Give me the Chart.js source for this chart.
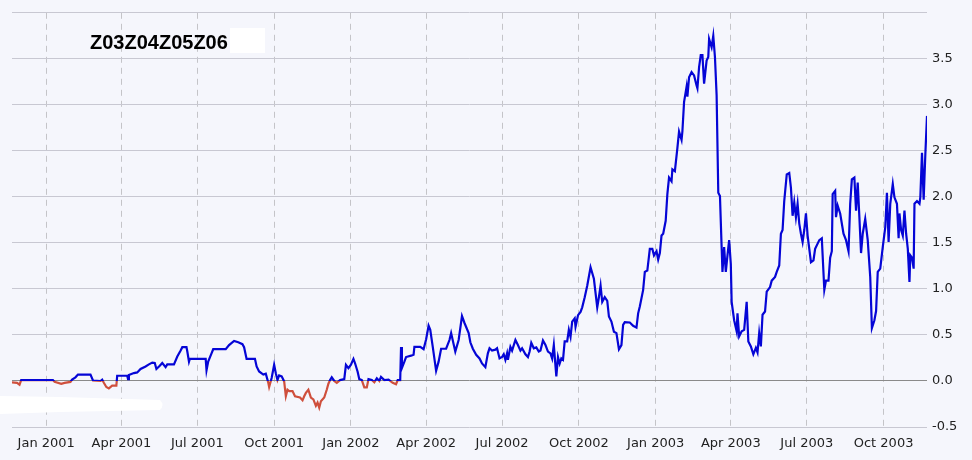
<!DOCTYPE html>
<html>
<head>
<meta charset="utf-8">
<script src="https://cdn.jsdelivr.net/npm/chart.js@4.4.1/dist/chart.umd.min.js"></script>
<style>
  html, body { margin: 0; padding: 0; background: #f5f6fc; }
  #wrap { position: relative; width: 972px; height: 460px; }
  #title { position: absolute; left: 90px; top: 30px; font: bold 20px "Liberation Sans", Arial, sans-serif; color: #000; line-height: 24px; white-space: nowrap; }
</style>
</head>
<body>
<div id="wrap">
  <canvas id="c" width="972" height="460"></canvas>
  <div id="title">Z03Z04Z05Z06</div>
</div>
<script>
const seriesName = "Z03Z04Z05Z06";

const dates = [
"2000-11-21","2000-11-27","2000-11-30","2000-12-02",
"2001-01-09","2001-01-11","2001-01-19","2001-01-23","2001-01-30","2001-02-01","2001-02-05","2001-02-08","2001-02-23","2001-02-26",
"2001-03-07","2001-03-09","2001-03-11","2001-03-14","2001-03-17","2001-03-21","2001-03-26","2001-03-27",
"2001-04-08","2001-04-09","2001-04-10","2001-04-16","2001-04-20","2001-04-24","2001-04-30",
"2001-05-04","2001-05-08","2001-05-11","2001-05-13","2001-05-17","2001-05-20","2001-05-24","2001-05-26",
"2001-06-03","2001-06-07","2001-06-11","2001-06-13","2001-06-18","2001-06-19","2001-06-21","2001-06-22",
"2001-07-11","2001-07-12","2001-07-14","2001-07-18","2001-07-20",
"2001-08-04","2001-08-08","2001-08-14","2001-08-19","2001-08-24","2001-08-26","2001-08-29",
"2001-09-08","2001-09-10","2001-09-13","2001-09-18","2001-09-21","2001-09-24","2001-09-25","2001-09-28",
"2001-10-01","2001-10-03","2001-10-05","2001-10-07","2001-10-10","2001-10-13","2001-10-15","2001-10-17","2001-10-19","2001-10-23","2001-10-26",
"2001-11-01","2001-11-04","2001-11-06","2001-11-08","2001-11-11","2001-11-14","2001-11-17","2001-11-20","2001-11-22","2001-11-24","2001-11-26","2001-11-30",
"2001-12-03","2001-12-05","2001-12-07","2001-12-09","2001-12-12","2001-12-15","2001-12-19","2001-12-24","2001-12-26","2001-12-29",
"2002-01-01","2002-01-04","2002-01-06","2002-01-09","2002-01-11","2002-01-14","2002-01-17","2002-01-20","2002-01-22","2002-01-26","2002-01-29",
"2002-02-01","2002-02-04","2002-02-06","2002-02-10","2002-02-15","2002-02-20","2002-02-24","2002-02-26",
"2002-03-01","2002-03-02","2002-03-03","2002-03-06","2002-03-08","2002-03-14","2002-03-17","2002-03-18","2002-03-25","2002-03-29",
"2002-04-01","2002-04-04","2002-04-06","2002-04-09","2002-04-13","2002-04-16","2002-04-19","2002-04-25","2002-04-29",
"2002-05-01","2002-05-04","2002-05-06","2002-05-10","2002-05-14","2002-05-17","2002-05-22","2002-05-24","2002-05-27","2002-05-31",
"2002-06-04","2002-06-07","2002-06-11","2002-06-14","2002-06-16","2002-06-19","2002-06-23","2002-06-25","2002-06-28",
"2002-07-01","2002-07-03","2002-07-05","2002-07-07","2002-07-08","2002-07-11","2002-07-13","2002-07-17","2002-07-20","2002-07-23","2002-07-25","2002-07-29",
"2002-08-01","2002-08-03","2002-08-05","2002-08-08","2002-08-11","2002-08-14","2002-08-16","2002-08-19","2002-08-22","2002-08-25","2002-08-28","2002-08-30",
"2002-09-01","2002-09-04","2002-09-06","2002-09-08","2002-09-10","2002-09-12","2002-09-14","2002-09-17","2002-09-19","2002-09-21","2002-09-23","2002-09-26","2002-09-27","2002-09-30",
"2002-10-03","2002-10-05","2002-10-08","2002-10-11","2002-10-15","2002-10-19","2002-10-23","2002-10-25","2002-10-27","2002-10-29",
"2002-11-01","2002-11-04","2002-11-06","2002-11-09","2002-11-12","2002-11-15","2002-11-18","2002-11-21","2002-11-23","2002-11-25",
"2002-12-01","2002-12-05","2002-12-09","2002-12-11","2002-12-13","2002-12-17","2002-12-19","2002-12-22","2002-12-25","2002-12-28","2002-12-30",
"2003-01-02","2003-01-04","2003-01-06","2003-01-08","2003-01-10","2003-01-13","2003-01-15","2003-01-17","2003-01-20","2003-01-21","2003-01-24","2003-01-27","2003-01-29",
"2003-02-01","2003-02-02","2003-02-04","2003-02-07","2003-02-08","2003-02-10","2003-02-13","2003-02-16","2003-02-19","2003-02-20","2003-02-22","2003-02-24","2003-02-26","2003-02-28",
"2003-03-03","2003-03-05","2003-03-06","2003-03-09","2003-03-11","2003-03-13","2003-03-15","2003-03-17","2003-03-19","2003-03-21","2003-03-22","2003-03-24","2003-03-26","2003-03-28","2003-03-30",
"2003-04-01","2003-04-02","2003-04-05","2003-04-08","2003-04-09","2003-04-11","2003-04-14","2003-04-17","2003-04-20","2003-04-22","2003-04-25","2003-04-28",
"2003-05-01","2003-05-03","2003-05-05","2003-05-07","2003-05-09","2003-05-12","2003-05-14","2003-05-18","2003-05-20","2003-05-24","2003-05-26","2003-05-29","2003-05-31",
"2003-06-02","2003-06-04","2003-06-07","2003-06-10","2003-06-12","2003-06-14","2003-06-16","2003-06-18","2003-06-20","2003-06-22","2003-06-24","2003-06-26","2003-06-28","2003-06-30",
"2003-07-02","2003-07-06","2003-07-09","2003-07-11","2003-07-16","2003-07-19","2003-07-22","2003-07-24","2003-07-27","2003-07-29","2003-07-31",
"2003-08-01","2003-08-04","2003-08-05","2003-08-07","2003-08-10","2003-08-14","2003-08-17","2003-08-20","2003-08-22","2003-08-24","2003-08-27","2003-08-29","2003-08-31",
"2003-09-02","2003-09-04","2003-09-06","2003-09-09","2003-09-12","2003-09-15","2003-09-17","2003-09-20","2003-09-22","2003-09-24","2003-09-27","2003-09-30",
"2003-10-03","2003-10-05","2003-10-07","2003-10-09","2003-10-12","2003-10-14","2003-10-17","2003-10-19","2003-10-20","2003-10-22","2003-10-24","2003-10-26","2003-10-28","2003-10-30",
"2003-11-01","2003-11-02","2003-11-04","2003-11-06","2003-11-07","2003-11-10","2003-11-13","2003-11-14","2003-11-16","2003-11-18","2003-11-20","2003-11-22"
];

const values = [
-0.015,-0.02,-0.04,0.01,
0.01,-0.01,-0.03,-0.02,-0.01,0.015,0.04,0.07,0.07,0.005,
0.0,0.015,-0.02,-0.065,-0.08,-0.05,-0.05,0.057,
0.057,0.02,0.065,0.086,0.093,0.13,0.158,
0.18,0.2,0.195,0.13,0.165,0.195,0.15,0.18,
0.18,0.265,0.33,0.367,0.367,0.32,0.21,0.24,
0.24,0.115,0.21,0.30,0.345,
0.345,0.39,0.435,0.42,0.40,0.367,0.24,
0.24,0.158,0.104,0.07,0.08,-0.02,-0.065,0.033,
0.176,0.085,0.01,0.06,0.05,-0.005,-0.166,-0.095,-0.11,-0.11,-0.166,
-0.18,-0.21,-0.166,-0.13,-0.095,-0.18,-0.2,-0.27,-0.235,-0.29,-0.22,-0.18,
-0.095,-0.03,0.01,0.04,0.0,-0.02,0.01,0.02,0.176,0.14,
0.176,0.24,0.19,0.10,0.02,0.01,-0.07,-0.07,0.02,0.01,-0.015,
0.03,0.0,0.045,0.01,0.015,-0.02,-0.035,0.01,
0.01,0.37,0.14,0.21,0.26,0.275,0.285,0.37,0.37,0.345,
0.45,0.60,0.555,0.37,0.11,0.21,0.35,0.35,0.445,
0.52,0.40,0.32,0.445,0.705,0.63,0.52,0.42,0.35,0.285,
0.245,0.19,0.15,0.30,0.355,0.33,0.34,0.355,0.245,
0.26,0.29,0.23,0.30,0.23,0.37,0.33,0.445,0.39,0.33,0.355,0.29,
0.26,0.32,0.415,0.355,0.365,0.32,0.33,0.44,0.39,0.32,0.30,0.245,
0.39,0.05,0.26,0.19,0.245,0.23,0.43,0.43,0.555,0.48,0.645,0.68,0.59,0.715,
0.75,0.80,0.91,1.035,1.235,1.11,0.80,0.91,1.035,0.86,
0.91,0.87,0.70,0.645,0.535,0.52,0.345,0.39,0.61,0.64,
0.635,0.60,0.58,0.735,0.81,0.99,1.185,1.2,1.435,1.435,1.365,
1.41,1.32,1.39,1.58,1.6,1.74,2.03,2.21,2.17,2.30,2.28,2.53,2.71,
2.62,2.71,3.03,3.195,3.09,3.30,3.355,3.32,3.21,3.18,3.41,3.54,3.54,3.23,
3.48,3.52,3.715,3.625,3.75,3.52,3.105,2.045,2.01,1.455,1.185,1.455,1.185,1.365,1.53,
1.27,0.86,0.66,0.54,0.735,0.485,0.54,0.555,0.86,0.43,0.375,0.29,
0.36,0.31,0.52,0.375,0.72,0.755,0.97,1.02,1.09,1.13,1.185,1.255,1.60,
1.64,1.955,2.245,2.26,2.10,1.795,1.94,1.78,1.925,1.71,1.60,1.51,1.64,1.82,
1.58,1.29,1.31,1.435,1.53,1.55,0.99,1.09,1.09,1.34,1.41,
2.03,2.065,1.78,1.905,1.82,1.60,1.53,1.41,1.925,2.19,2.21,1.85,2.155,
1.78,1.39,1.60,1.76,1.53,1.13,0.575,0.66,0.76,1.185,1.22,1.455,
1.67,2.045,1.51,1.925,2.14,1.995,1.925,1.55,1.82,1.64,1.58,1.85,1.60,1.435,
1.075,1.365,1.34,1.22,1.925,1.955,1.925,1.995,2.48,1.97,2.46,2.88
];

const tickDates = ["2001-01-01","2001-04-01","2001-07-01","2001-10-01","2002-01-01","2002-04-01","2002-07-01","2002-10-01","2003-01-01","2003-04-01","2003-07-01","2003-10-01"];
const tickLabels = ["Jan 2001","Apr 2001","Jul 2001","Oct 2001","Jan 2002","Apr 2002","Jul 2002","Oct 2002","Jan 2003","Apr 2003","Jul 2003","Oct 2003"];
const yMin = -0.5, yMax = 4.0, yStep = 0.5;

const BLUE = '#0505d6';
const RED = '#cf4f3c';
const BG = '#f5f6fc';

const points = dates.map((d, i) => ({ x: Date.parse(d), y: values[i] }));
const tickValues = tickDates.map(d => Date.parse(d));

function lineColor(c) {
  const chart = c.chart;
  const { ctx, chartArea, scales } = chart;
  if (!chartArea || !scales.y) return BLUE;
  const y0 = scales.y.getPixelForValue(0);
  let t = (y0 - chartArea.top) / (chartArea.bottom - chartArea.top);
  t = Math.min(1, Math.max(0, t));
  const g = ctx.createLinearGradient(0, chartArea.top, 0, chartArea.bottom);
  g.addColorStop(0, BLUE); g.addColorStop(t, BLUE);
  g.addColorStop(t, RED); g.addColorStop(1, RED);
  return g;
}

const decor = {
  id: 'decor',
  beforeDraw(chart) {
    const c = chart.ctx;
    c.save(); c.fillStyle = BG; c.fillRect(0, 0, chart.width, chart.height); c.restore();
  },
  afterDraw(chart) {
    const c = chart.ctx;
    c.save();
    c.fillStyle = '#ffffff';
    c.fillRect(230, 28, 35, 25);
    c.beginPath();
    c.moveTo(0, 396); c.lineTo(60, 397); c.lineTo(160, 400); c.quadraticCurveTo(165, 405, 160, 410);
    c.lineTo(60, 412); c.lineTo(0, 414); c.closePath(); c.fill();
    c.restore();
  }
};

new Chart(document.getElementById('c'), {
  type: 'line',
  data: {
    datasets: [{
      label: seriesName,
      data: points,
      borderColor: lineColor,
      borderWidth: 2.2,
      pointRadius: 0,
      tension: 0,
      fill: false
    }]
  },
  options: {
    responsive: false,
    animation: false,
    devicePixelRatio: 1,
    layout: { padding: { left: 12, top: 10, right: 0, bottom: 0 } },
    plugins: { legend: { display: false }, tooltip: { enabled: false }, title: { display: false } },
    scales: {
      x: {
        type: 'linear',
        min: points[0].x,
        max: points[points.length - 1].x,
        afterBuildTicks(scale) { scale.ticks = tickValues.map(v => ({ value: v })); },
        afterFit(scale) { scale.height = 33; },
        grid: { color: '#c4c4c8', lineWidth: 1, drawTicks: false },
        border: { display: false, dash: [6, 5] },
        ticks: {
          autoSkip: false, maxRotation: 0, padding: 9, color: '#222',
          font: { family: 'DejaVu Sans', size: 13 },
          callback(v) { const i = tickValues.indexOf(v); return i >= 0 ? tickLabels[i] : ''; }
        }
      },
      y: {
        position: 'right',
        min: yMin, max: yMax,
        afterFit(scale) { scale.width = 45; },
        grid: {
          drawTicks: false,
          color(c) { return c.tick && c.tick.value === 0 ? '#8a8a8a' : '#c8c8d2'; }
        },
        border: { display: false },
        ticks: {
          stepSize: yStep, padding: 5, color: '#222',
          font: { family: 'DejaVu Sans', size: 13 },
          callback(v) { return v >= yMax ? '' : Number(v).toFixed(1); }
        }
      }
    }
  },
  plugins: [decor]
});
</script>
</body>
</html>
